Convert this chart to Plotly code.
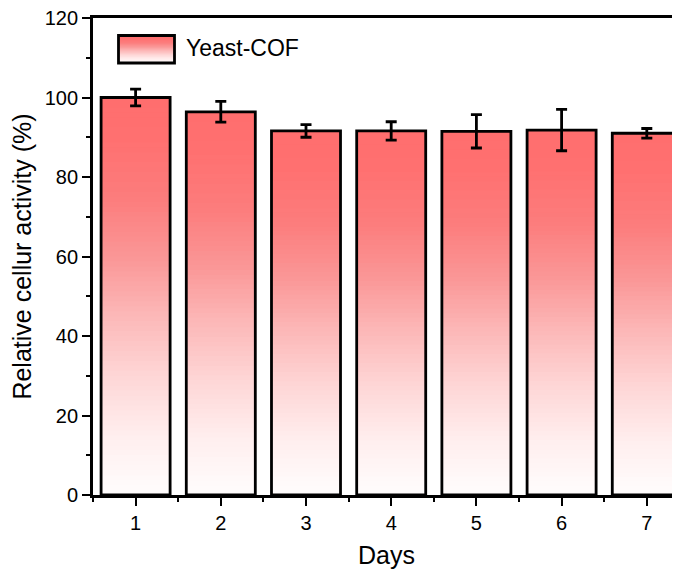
import plotly.graph_objects as go

days = [1, 2, 3, 4, 5, 6, 7]
day_labels = ["1", "2", "3", "4", "5", "6", "7"]
activity = [100.0, 96.4, 91.6, 91.6, 91.5, 91.8, 91.0]
activity_err = [2.1, 2.6, 1.6, 2.3, 4.2, 5.2, 1.2]
series_name = "Yeast-COF"

# gradient stops: (fraction of bar height from bottom, rgb)
grad_stops = [
    (0.00, (255, 253, 253)),
    (0.15, (255, 238, 238)),
    (0.30, (254, 214, 214)),
    (0.45, (252, 184, 184)),
    (0.60, (250, 150, 150)),
    (0.75, (252, 124, 124)),
    (0.90, (255, 112, 112)),
    (1.00, (255, 110, 110)),
]


def grad_color(f):
    for (f0, c0), (f1, c1) in zip(grad_stops[:-1], grad_stops[1:]):
        if f0 <= f <= f1:
            t = (f - f0) / (f1 - f0) if f1 > f0 else 0
            c = [round(a + (b - a) * t) for a, b in zip(c0, c1)]
            return "rgb(%d,%d,%d)" % tuple(c)
    return "rgb(%d,%d,%d)" % grad_stops[-1][1]


FONT = "Arial, 'Liberation Sans', sans-serif"
N = 80
BAR_W = 0.81

fig = go.Figure()
# gradient fill: overlapping segments, each from a fraction of the bar up to its top
for k in range(N):
    frac = (k + 0.5) / N
    fig.add_trace(go.Bar(
        x=days,
        y=[v * (1 - k / N) for v in activity],
        base=[v * k / N for v in activity],
        width=BAR_W,
        marker=dict(color=grad_color(frac), line=dict(width=0)),
        showlegend=False,
        hoverinfo="skip",
    ))

fig.add_trace(go.Bar(
    x=days,
    y=activity,
    width=BAR_W,
    name=series_name,
    marker=dict(color="rgba(0,0,0,0)", line=dict(color="black", width=2.8)),
    error_y=dict(type="data", array=activity_err, visible=True,
                 color="black", thickness=2.8, width=5.5),
    showlegend=False,
))

# figure geometry (page has an 8px body offset)
FW, FH = 672, 566
L, T = 85, 10
R, B = FW, 487
W, H = R - L, B - T


def px(x):
    return (x - L) / W


def py(y):
    return (B - y) / H


shapes = []
lx0, lx1, ly0, ly1 = 110.5, 166.5, 27.5, 55.0
NL = 28
for k in range(NL):
    f = (k + 0.5) / NL
    y0 = ly1 - (ly1 - ly0) * k / NL
    shapes.append(dict(type="rect", xref="paper", yref="paper",
                       x0=px(lx0), x1=px(lx1), y0=py(y0 + 0.2), y1=py(ly0),
                       line=dict(width=0), fillcolor=grad_color(f), layer="above"))
shapes.append(dict(type="rect", xref="paper", yref="paper",
                   x0=px(lx0), x1=px(lx1), y0=py(ly1), y1=py(ly0),
                   line=dict(color="black", width=2.8), fillcolor="rgba(0,0,0,0)",
                   layer="above"))

fig.update_layout(
    width=FW, height=FH,
    margin=dict(l=L, r=0, t=T, b=FH - B),
    paper_bgcolor="white", plot_bgcolor="white",
    barmode="overlay",
    showlegend=False,
    font=dict(family=FONT, color="black", size=20),
    shapes=shapes,
    annotations=[dict(text=series_name, xref="paper", yref="paper",
                      x=px(176), y=py(40.5), xanchor="left", yanchor="middle",
                      showarrow=False, font=dict(family=FONT, size=23, color="black"))],
    xaxis=dict(
        range=[0.5, 0.5 + W / 85.2], tickmode="array", tickvals=days, ticktext=day_labels,
        showgrid=False, zeroline=False,
        showline=True, linecolor="black", linewidth=2.8, mirror=True,
        ticks="outside", ticklen=8, tickwidth=2.4, tickcolor="black",
        minor=dict(ticks="outside", tick0=0.5, dtick=1, ticklen=4,
                   tickwidth=2.4, tickcolor="black", showgrid=False),
        tickfont=dict(size=20),
        title=dict(text="Days", font=dict(size=25), standoff=14),
    ),
    yaxis=dict(
        range=[0, 120], tickmode="linear", tick0=0, dtick=20,
        showgrid=False, zeroline=False, ticklabeloverflow="allow",
        showline=True, linecolor="black", linewidth=2.8, mirror=False,
        ticks="outside", ticklen=8, tickwidth=2.4, tickcolor="black",
        minor=dict(ticks="outside", dtick=10, ticklen=4,
                   tickwidth=2.4, tickcolor="black", showgrid=False),
        tickfont=dict(size=20),
        title=dict(text="Relative cellur activity (%)", font=dict(size=25), standoff=6),
    ),
)

fig.write_html("out.html")
